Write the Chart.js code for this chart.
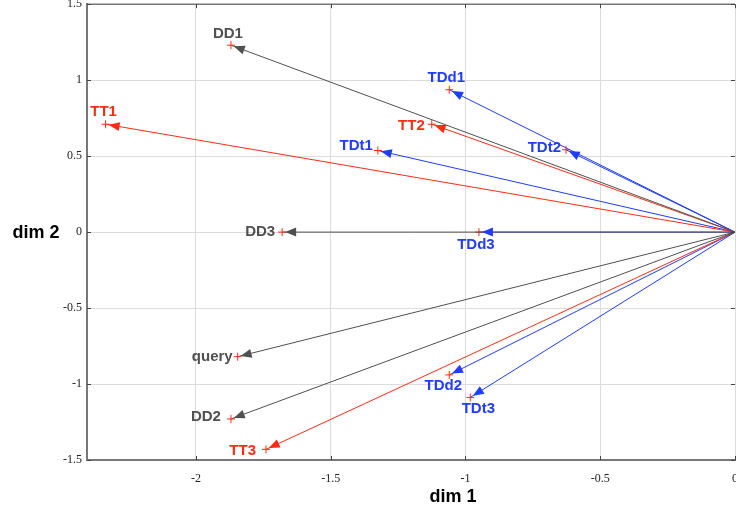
<!DOCTYPE html>
<html>
<head>
<meta charset="utf-8">
<script src="https://cdn.jsdelivr.net/npm/chart.js@4/dist/chart.umd.min.js"></script>
<style>
  html, body { margin: 0; padding: 0; background: #fff; overflow: hidden; }
  #wrap { position: relative; top: -8px; width: 750px; height: 524px; }
</style>
</head>
<body>
<div id="wrap"><canvas id="chart"></canvas></div>
<script>
// documents + query (gray)
const docNames = ["DD1", "DD2", "DD3", "query"];
const docX = [-1.87, -1.87, -1.68, -1.845];
const docY = [1.23, -1.23, 0, -0.82];

// terms (red)
const termNames = ["TT1", "TT2", "TT3"];
const termX = [-2.335, -1.125, -1.74];
const termY = [0.71, 0.71, -1.43];

// term-document pairs (blue)
const tdNames = ["TDd1", "TDd2", "TDd3", "TDt1", "TDt2", "TDt3"];
const tdX = [-1.06, -1.06, -0.95, -1.325, -0.627, -0.982];
const tdY = [0.937, -0.94, 0, 0.537, 0.542, -1.088];

const xTicks = [-2, -1.5, -1, -0.5, 0];
const yTicks = [-1.5, -1, -0.5, 0, 0.5, 1, 1.5];

// label placement (style only): [align, dx, dy]
const docLabelPos = [["center", -3, -11], ["right", -10, -2], ["right", -7, 0], ["right", -5, 0]];
const termLabelPos = [["center", -2, -12], ["right", -7, 2], ["right", -10, 1]];
const tdLabelPos = [["center", -3, -12], ["center", -6, 11], ["center", -3, 13],
                    ["right", -5, -5], ["right", -5, -2], ["center", 8, 11]];

const GRAY = "#505050", RED = "#ff2a14", BLUE = "#1f3cff";

const vectors = [];
function addGroup(names, xs, ys, color, pos) {
  names.forEach((n, i) => vectors.push({ name: n, x: xs[i], y: ys[i], color, pos: pos[i] }));
}
addGroup(docNames, docX, docY, GRAY, docLabelPos);
addGroup(termNames, termX, termY, RED, termLabelPos);
addGroup(tdNames, tdX, tdY, BLUE, tdLabelPos);

const datasets = vectors.map(v => ({
  label: v.name,
  data: [{ x: 0, y: 0 }, { x: v.x, y: v.y }],
  showLine: true,
  borderColor: v.color,
  borderWidth: 1,
  pointStyle: "cross",
  pointRadius: [0, 4],
  pointBorderColor: RED,
  pointBorderWidth: 1,
  pointHoverRadius: 0
}));

// arrowheads, labels, frame and axis titles
const decor = {
  id: "decor",
  afterDatasetsDraw(chart) {
    const { ctx, scales: { x, y }, chartArea: a } = chart;
    const ox = x.getPixelForValue(0), oy = y.getPixelForValue(0);
    ctx.save();
    vectors.forEach(v => {
      const px = x.getPixelForValue(v.x), py = y.getPixelForValue(v.y);
      const ang = Math.atan2(py - oy, px - ox);
      const tx = px - 3 * Math.cos(ang), ty = py - 3 * Math.sin(ang);
      const L = 11, W = 4.5;
      const bx = tx - L * Math.cos(ang), by = ty - L * Math.sin(ang);
      ctx.fillStyle = v.color;
      ctx.beginPath();
      ctx.moveTo(tx, ty);
      ctx.lineTo(bx + W * Math.sin(ang), by - W * Math.cos(ang));
      ctx.lineTo(bx - W * Math.sin(ang), by + W * Math.cos(ang));
      ctx.closePath();
      ctx.fill();
    });
    ctx.font = 'bold 15px "Liberation Sans", Arial, sans-serif';
    ctx.textBaseline = "middle";
    vectors.forEach(v => {
      const px = x.getPixelForValue(v.x), py = y.getPixelForValue(v.y);
      ctx.fillStyle = v.color;
      ctx.textAlign = v.pos[0];
      ctx.fillText(v.name, px + v.pos[1], py + v.pos[2]);
    });
    // top frame line
    ctx.strokeStyle = "#777";
    ctx.lineWidth = 1.5;
    ctx.beginPath();
    ctx.moveTo(a.left, a.top);
    ctx.lineTo(a.right, a.top);
    ctx.stroke();
    // inward tick marks
    ctx.strokeStyle = "#444";
    ctx.lineWidth = 1;
    ctx.beginPath();
    xTicks.forEach(t => {
      const p = Math.round(x.getPixelForValue(t)) + 0.5;
      ctx.moveTo(p, a.bottom); ctx.lineTo(p, a.bottom - 4);
      ctx.moveTo(p, a.top); ctx.lineTo(p, a.top + 4);
    });
    yTicks.forEach(t => {
      const p = Math.round(y.getPixelForValue(t)) + 0.5;
      ctx.moveTo(a.left, p); ctx.lineTo(a.left + 4, p);
      ctx.moveTo(a.right, p); ctx.lineTo(a.right - 4, p);
    });
    ctx.stroke();
    // axis titles
    ctx.fillStyle = "#000";
    ctx.font = 'bold 18px "Liberation Sans", Arial, sans-serif';
    ctx.textAlign = "center";
    ctx.fillText("dim 1", 453, 505);
    ctx.fillText("dim 2", 36, 241);
    ctx.restore();
  }
};

const tickFont = { family: '"Liberation Serif", "Times New Roman", serif', size: 12 };

new Chart(document.getElementById("chart"), {
  type: "scatter",
  data: { datasets },
  options: {
    responsive: true,
    maintainAspectRatio: false,
    animation: false,
    events: [],
    layout: { padding: { left: 0, top: 3, right: 14, bottom: 0 } },
    plugins: { legend: { display: false }, tooltip: { enabled: false } },
    scales: {
      x: {
        type: "linear",
        min: -2.404,
        max: 0,
        afterFit: s => { s.height = 56; },
        afterBuildTicks: s => { s.ticks = xTicks.map(v => ({ value: v })); },
        ticks: { includeBounds: false, padding: 12, color: "#222", font: tickFont, callback: v => String(v) },
        grid: { color: "#dcdcdc", lineWidth: 1, drawTicks: false },
        border: { display: true, color: "#777", width: 2 }
      },
      y: {
        type: "linear",
        min: -1.5,
        max: 1.5,
        afterFit: s => { s.width = 87; },
        afterBuildTicks: s => { s.ticks = yTicks.map(v => ({ value: v })); },
        ticks: { includeBounds: false, padding: 5, color: "#222", font: tickFont, callback: v => String(v) },
        grid: { color: "#dcdcdc", lineWidth: 1, drawTicks: false },
        border: { display: true, color: "#777", width: 2 }
      }
    }
  },
  plugins: [decor]
});
</script>
</body>
</html>
